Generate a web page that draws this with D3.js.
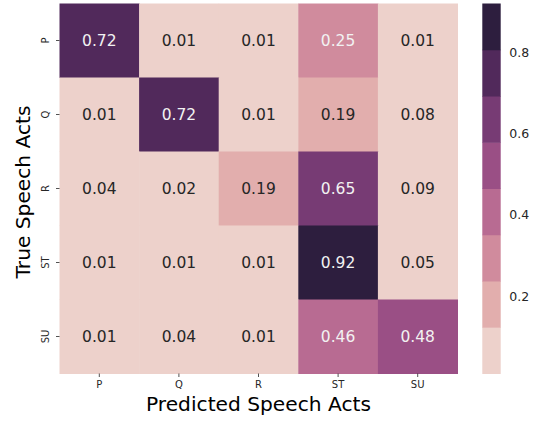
<!DOCTYPE html>
<html>
<head>
<meta charset="utf-8">
<script src="https://cdn.jsdelivr.net/npm/d3@7"></script>
<style>
body { margin: 0; background: #fff; }
text { font-family: "DejaVu Sans", sans-serif; }
</style>
</head>
<body>
<script>
// confusion matrix values, rows = true, cols = predicted
var acts = ["P", "Q", "R", "ST", "SU"];
var rowP  = [0.72, 0.01, 0.01, 0.25, 0.01];
var rowQ  = [0.01, 0.72, 0.01, 0.19, 0.08];
var rowR  = [0.04, 0.02, 0.19, 0.65, 0.09];
var rowST = [0.01, 0.01, 0.01, 0.92, 0.05];
var rowSU = [0.01, 0.04, 0.01, 0.46, 0.48];
var palette = ["#edd1cb", "#e2aead", "#d08b9d", "#b86b92", "#9a4f85", "#773b74", "#51295b", "#2d1e3e"];
var cbarTicks = [0.2, 0.4, 0.6, 0.8];

var rows = [rowP, rowQ, rowR, rowST, rowSU];
var cells = [];
rows.forEach(function(r, i) {
  r.forEach(function(v, j) { cells.push({t: acts[i], p: acts[j], v: v}); });
});

var W = 540, H = 421;
var plotL = 59.5, plotT = 3.5, plotR = 457.5, plotB = 373.5;

var svg = d3.select("body").append("svg")
  .attr("width", W)
  .attr("height", H);

var vmin = d3.min(cells, function(d) { return d.v; }),
    vmax = d3.max(cells, function(d) { return d.v; });

var color = d3.scaleQuantize()
  .domain([vmin, vmax])
  .range(palette);

var x = d3.scaleBand().domain(acts).range([plotL, plotR]);
var y = d3.scaleBand().domain(acts).range([plotT, plotB]);

svg.append("g").selectAll("rect")
  .data(cells)
  .enter().append("rect")
  .attr("x", function(d) { return x(d.p); })
  .attr("y", function(d) { return y(d.t); })
  .attr("width", x.bandwidth() + 0.5)
  .attr("height", y.bandwidth() + 0.5)
  .attr("fill", function(d) { return color(d.v); });

svg.append("g").selectAll("text")
  .data(cells)
  .enter().append("text")
  .attr("x", function(d) { return x(d.p) + x.bandwidth() / 2; })
  .attr("y", function(d) { return y(d.t) + y.bandwidth() / 2; })
  .attr("dy", "0.36em")
  .attr("text-anchor", "middle")
  .style("font-size", "15.5px")
  .attr("fill", function(d) { return palette.indexOf(color(d.v)) >= 2 ? "#f2f2f2" : "#262626"; })
  .text(function(d) { return d3.format(".2f")(d.v); });

// axes
var xAxis = d3.axisBottom(x).tickSize(3.5).tickPadding(3.5);
var gx = svg.append("g")
  .attr("transform", "translate(0," + plotB + ")")
  .call(xAxis);
gx.select(".domain").remove();
gx.selectAll("line").attr("stroke", "#262626").attr("stroke-width", 0.8);
gx.selectAll("text").style("font-size", "10px").attr("fill", "#262626");

var yAxis = d3.axisLeft(y).tickSize(3.5).tickPadding(3.5);
var gy = svg.append("g")
  .attr("transform", "translate(" + plotL + ",0)")
  .call(yAxis);
gy.select(".domain").remove();
gy.selectAll("line").attr("stroke", "#262626").attr("stroke-width", 0.8);
gy.selectAll("text")
  .style("font-size", "10px")
  .attr("fill", "#262626")
  .attr("text-anchor", "middle")
  .attr("x", null)
  .attr("dy", null)
  .attr("transform", "translate(-11,0) rotate(-90)");

svg.append("text")
  .attr("x", (plotL + plotR) / 2)
  .attr("y", 410.5)
  .attr("text-anchor", "middle")
  .style("font-size", "20.2px")
  .attr("fill", "#000")
  .text("Predicted Speech Acts");

svg.append("text")
  .attr("transform", "translate(30,192) rotate(-90)")
  .attr("text-anchor", "middle")
  .style("font-size", "20.2px")
  .attr("fill", "#000")
  .text("True Speech Acts");

// colorbar
var cx = 482.3, cw = 18.4;
var cy = d3.scaleLinear().domain([vmin, vmax]).range([plotB, plotT]);
var binW = (vmax - vmin) / palette.length;
svg.append("g").selectAll("rect")
  .data(palette)
  .enter().append("rect")
  .attr("x", cx)
  .attr("y", function(c, i) { return cy(vmin + (i + 1) * binW); })
  .attr("width", cw)
  .attr("height", function(c, i) { return cy(vmin + i * binW) - cy(vmin + (i + 1) * binW) + 0.5; })
  .attr("fill", function(c) { return c; });

var gc = svg.append("g")
  .attr("transform", "translate(" + (cx + cw) + ",0)")
  .call(d3.axisRight(cy).tickValues(cbarTicks).tickSize(0).tickPadding(8.5).tickFormat(d3.format(".1f")));
gc.select(".domain").remove();
gc.selectAll("text").style("font-size", "12.5px").attr("fill", "#262626");
</script>
</body>
</html>
